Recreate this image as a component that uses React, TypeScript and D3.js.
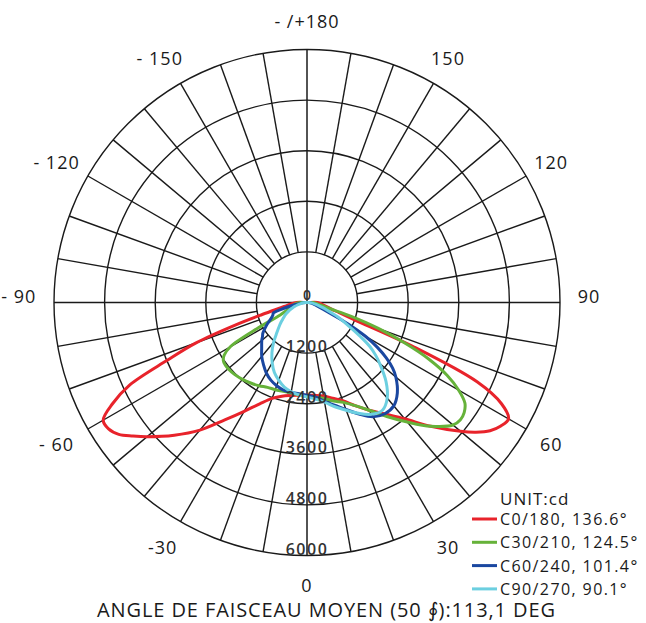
import React from "react";
import * as d3 from "d3";

// gamma angles (deg, 0 = straight down)
const gammas = [0, 5, 10, 15, 20, 25, 30, 35, 40, 45, 50, 52.5, 55, 57.5, 60, 62.5, 65, 67.5, 70, 72.5, 75, 80, 85, 90];

// intensities in cd, right half (C0/30/60/90) and left half (C180/210/240/270)
const c0 = [2200, 2210, 2250, 2350, 2480, 2700, 2950, 3230, 3600, 4150, 4750, 5050, 5300, 5450, 5520, 5200, 4450, 2700, 1200, 800, 600, 420, 330, 250];
const c180 = [2200, 2210, 2240, 2300, 2420, 2650, 2980, 3400, 3950, 4450, 4950, 5200, 5450, 5580, 5580, 5200, 4650, 3600, 2800, 1800, 1100, 550, 380, 250];
const c30 = [2230, 2260, 2310, 2420, 2520, 2700, 2950, 3300, 3700, 4150, 4520, 4580, 4550, 4440, 4150, 3750, 3200, 2500, 1800, 1100, 550, 300, 200, 150];
const c210 = [2220, 2200, 2180, 2180, 2200, 2220, 2280, 2330, 2380, 2420, 2440, 2440, 2420, 2330, 2100, 1300, 700, 560, 480, 430, 390, 330, 250, 150];
const c60 = [2200, 2250, 2380, 2520, 2700, 2920, 3130, 3220, 3200, 3030, 2750, 2560, 2300, 1980, 1600, 1100, 600, 400, 300, 230, 180, 120, 80, 50];
const c240 = [2170, 2170, 2160, 2150, 2100, 2030, 1930, 1800, 1670, 1520, 1400, 1330, 1280, 1200, 1120, 1040, 960, 900, 860, 840, 650, 300, 100, 30];
const c90 = [2240, 2300, 2400, 2560, 2720, 2900, 3060, 3120, 2960, 2650, 2250, 2050, 1820, 1500, 1200, 980, 800, 600, 480, 380, 300, 180, 100, 40];
const c270 = [2220, 2200, 2150, 2080, 1960, 1830, 1650, 1450, 1230, 1010, 850, 780, 710, 650, 600, 540, 480, 420, 360, 300, 250, 150, 80, 30];

const seriesNames = ["C0/180, 136.6°", "C30/210, 124.5°", "C60/240, 101.4°", "C90/270, 90.1°"];
const seriesColors = ["#e8232b", "#66b23a", "#1a47a0", "#6ccfe0"];
const seriesRight = [c0, c30, c60, c90];
const seriesLeft = [c180, c210, c240, c270];

const ringValues = [0, 1200, 2400, 3600, 4800, 6000];
const angleTicks = [0, 30, 60, 90, 120, 150, 180, -150, -120, -90, -60, -30];
const angleTickLabels = ["0", "30", "60", "90", "120", "150", "- /+180", "- 150", "- 120", "- 90", "- 60", "-30"];

const W = 646;
const H = 623;
const cx = 307;
const cy = 302.5;
const R = 253;
const font = "'Open Sans', 'Noto Sans', sans-serif";
const ink = "#1a1a1a";

const rad = (d: number) => (d * Math.PI) / 180;

export default function App() {
  const r = d3.scaleLinear().domain([0, 6000]).range([0, R]);

  // lineRadial: angle 0 = up, clockwise. gamma 0 = down.
  const line = d3
    .lineRadial<[number, number]>()
    .angle((d) => d[0])
    .radius((d) => d[1])
    .curve(d3.curveCatmullRomClosed.alpha(0.5));

  const curvePath = (right: number[], left: number[]) => {
    const pts: [number, number][] = [];
    gammas.forEach((g, i) => pts.push([Math.PI - rad(g), r(right[i])]));
    pts.push([Math.PI / 2 + Math.PI, 0]);
    for (let i = gammas.length - 1; i > 0; i--) {
      pts.push([Math.PI + rad(gammas[i]), r(left[i])]);
    }
    return line(pts) ?? "";
  };

  const spokes = d3.range(0, 360, 10).filter((a) => a % 90 !== 0);
  const labelR = 282;
  const digitW = 11.3;

  return (
    <svg width={W} height={H} style={{ position: "absolute", left: 0, top: 0, background: "#fff" }}>
      <g transform={`translate(${cx},${cy})`}>
        {/* rings */}
        {ringValues.slice(1).map((v) => (
          <circle key={v} r={r(v)} fill="none" stroke={ink} strokeWidth={1.4} />
        ))}
        {/* spokes from first ring outwards */}
        {spokes.map((a) => (
          <line
            key={a}
            x1={r(1200) * Math.sin(rad(a))}
            y1={r(1200) * Math.cos(rad(a))}
            x2={R * Math.sin(rad(a))}
            y2={R * Math.cos(rad(a))}
            stroke={ink}
            strokeWidth={1.4}
          />
        ))}
        {/* axes */}
        <line x1={-R} y1={0} x2={R} y2={0} stroke={ink} strokeWidth={1.5} />
        <line x1={0} y1={-R} x2={0} y2={R} stroke={ink} strokeWidth={1.5} />

        {/* curves */}
        {seriesRight.map((s, i) => (
          <path
            key={i}
            d={curvePath(s, seriesLeft[i])}
            fill="none"
            stroke={seriesColors[i]}
            strokeWidth={3}
            strokeLinejoin="round"
          />
        ))}

        {/* ring labels */}
        {ringValues.map((v) => (
          <text
            key={v}
            x={0}
            y={r(v) - (v === 0 ? 3 : 1)}
            textAnchor="middle"
            fontFamily={font}
            fontSize={v === 0 ? 14 : 16}
            fontWeight={600}
            letterSpacing={v === 0 ? 0 : 1.5}
            fill="#333"
          >
            {v}
          </text>
        ))}

        {/* angle labels: number centred on its direction, "- " prefix hangs to the left */}
        {angleTicks.map((a, i) => {
          const x = labelR * Math.sin(rad(a));
          const y = labelR * Math.cos(rad(a)) + (Math.abs(a) === 90 ? -7 : 0);
          const label = angleTickLabels[i];
          const num = String(Math.abs(a));
          const prefix = a < 0 ? label.slice(0, label.length - num.length) : "";
          const body = a < 0 ? num : label;
          return (
            <g key={a}>
              <text
                x={x}
                y={y}
                textAnchor="middle"
                dominantBaseline="central"
                fontFamily={font}
                fontSize={18}
                letterSpacing={1}
                fill={ink}
              >
                {body}
              </text>
              {prefix && (
                <text
                  x={x - (num.length * digitW) / 2}
                  y={y}
                  textAnchor="end"
                  dominantBaseline="central"
                  fontFamily={font}
                  fontSize={18}
                  letterSpacing={1}
                  fill={ink}
                  style={{ whiteSpace: "pre" }}
                >
                  {prefix}
                </text>
              )}
            </g>
          );
        })}
      </g>

      {/* legend */}
      <text x={500} y={505} fontFamily={font} fontSize={17} letterSpacing={1} fill={ink}>
        UNIT:cd
      </text>
      {seriesNames.map((n, i) => (
        <g key={n} transform={`translate(0,${519 + i * 23.3})`}>
          <line x1={472} x2={497} y1={0} y2={0} stroke={seriesColors[i]} strokeWidth={3} />
          <text x={500} y={6} fontFamily={font} fontSize={16} letterSpacing={1.4} fill={ink}>
            {n}
          </text>
        </g>
      ))}

      {/* title */}
      <text
        x={97}
        y={617}
        fontFamily={font}
        fontSize={20}
        textLength={458}
        lengthAdjust="spacing"
        fill={ink}
      >
        ANGLE DE FAISCEAU MOYEN (50 ∮):113,1 DEG
      </text>
    </svg>
  );
}
